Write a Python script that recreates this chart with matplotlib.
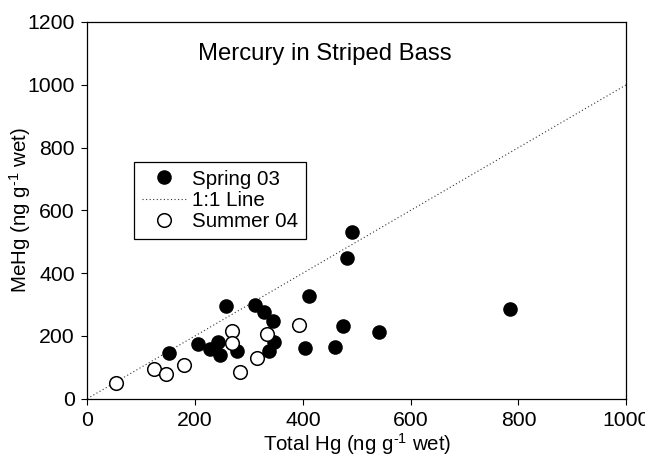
#!/usr/bin/env python3
import numpy as np
import matplotlib
matplotlib.use('Agg')
import matplotlib.pyplot as plt

plt.rcParams['font.family'] = ['Liberation Sans', 'DejaVu Sans']
plt.rcParams['mathtext.fontset'] = 'custom'
plt.rcParams['mathtext.rm'] = 'Liberation Sans'
plt.rcParams['mathtext.default'] = 'regular'

# Spring 03 (filled)
spring_total = [152, 206, 228, 243, 246, 257, 277, 311, 328, 344,
                347, 338, 404, 412, 459, 474, 482, 491, 542, 784]
spring_mehg = [144, 173, 157, 180, 138, 295, 153, 298, 277, 248,
               182, 153, 160, 327, 166, 232, 449, 532, 213, 286]

# Summer 04 (open)
summer_total = [53, 123, 146, 180, 268, 269, 284, 315, 333, 392]
summer_mehg = [51, 94, 78, 107, 217, 178, 84, 129, 205, 235]

one_to_one = [0, 1000]

x_ticks = [0, 200, 400, 600, 800, 1000]
y_ticks = [0, 200, 400, 600, 800, 1000, 1200]


def main():
    fig = plt.figure(figsize=(6.45, 4.58), dpi=100)
    ax = fig.add_axes([0.1353, 0.1295, 0.8357, 0.8225])

    ax.plot(spring_total, spring_mehg, 'o', color='black', markersize=10.5,
            markeredgewidth=0, label='Spring 03', zorder=3)
    ax.plot(one_to_one, one_to_one, color='#333333', linewidth=0.8,
            dashes=(1, 2.2), label='1:1 Line', zorder=2)
    ax.plot(summer_total, summer_mehg, 'o', markerfacecolor='white',
            markeredgecolor='black', markeredgewidth=1.1, markersize=9.8,
            label='Summer 04', zorder=4)

    ax.set_xlim(0, 1000)
    ax.set_ylim(0, 1200)
    ax.set_xticks(x_ticks)
    ax.set_yticks(y_ticks)
    ax.tick_params(direction='out', length=4.5, width=0.8, labelsize=15.3,
                   pad=4.5)
    for s in ax.spines.values():
        s.set_linewidth(0.9)

    ax.set_xlabel('Total Hg (ng g$^{\\text{-1}}$ wet)', fontsize=14.8,
                  labelpad=1)
    ax.set_ylabel('MeHg (ng g$^{\\text{-1}}$ wet)', fontsize=14.8)
    ax.yaxis.set_label_coords(-0.101, 0.5)

    ax.text(441, 1097, 'Mercury in Striped Bass', fontsize=17.2,
            ha='center', va='center')

    leg = ax.legend(loc='upper left', bbox_to_anchor=(0.0866, 0.629),
                    borderaxespad=0, fancybox=False, fontsize=14.8,
                    handlelength=2.15, handletextpad=0.3, labelspacing=0.12,
                    borderpad=0.38, framealpha=1)
    leg.get_frame().set_edgecolor('black')
    leg.get_frame().set_linewidth(0.9)

    fig.savefig('out.png', dpi=100)


if __name__ == '__main__':
    main()
